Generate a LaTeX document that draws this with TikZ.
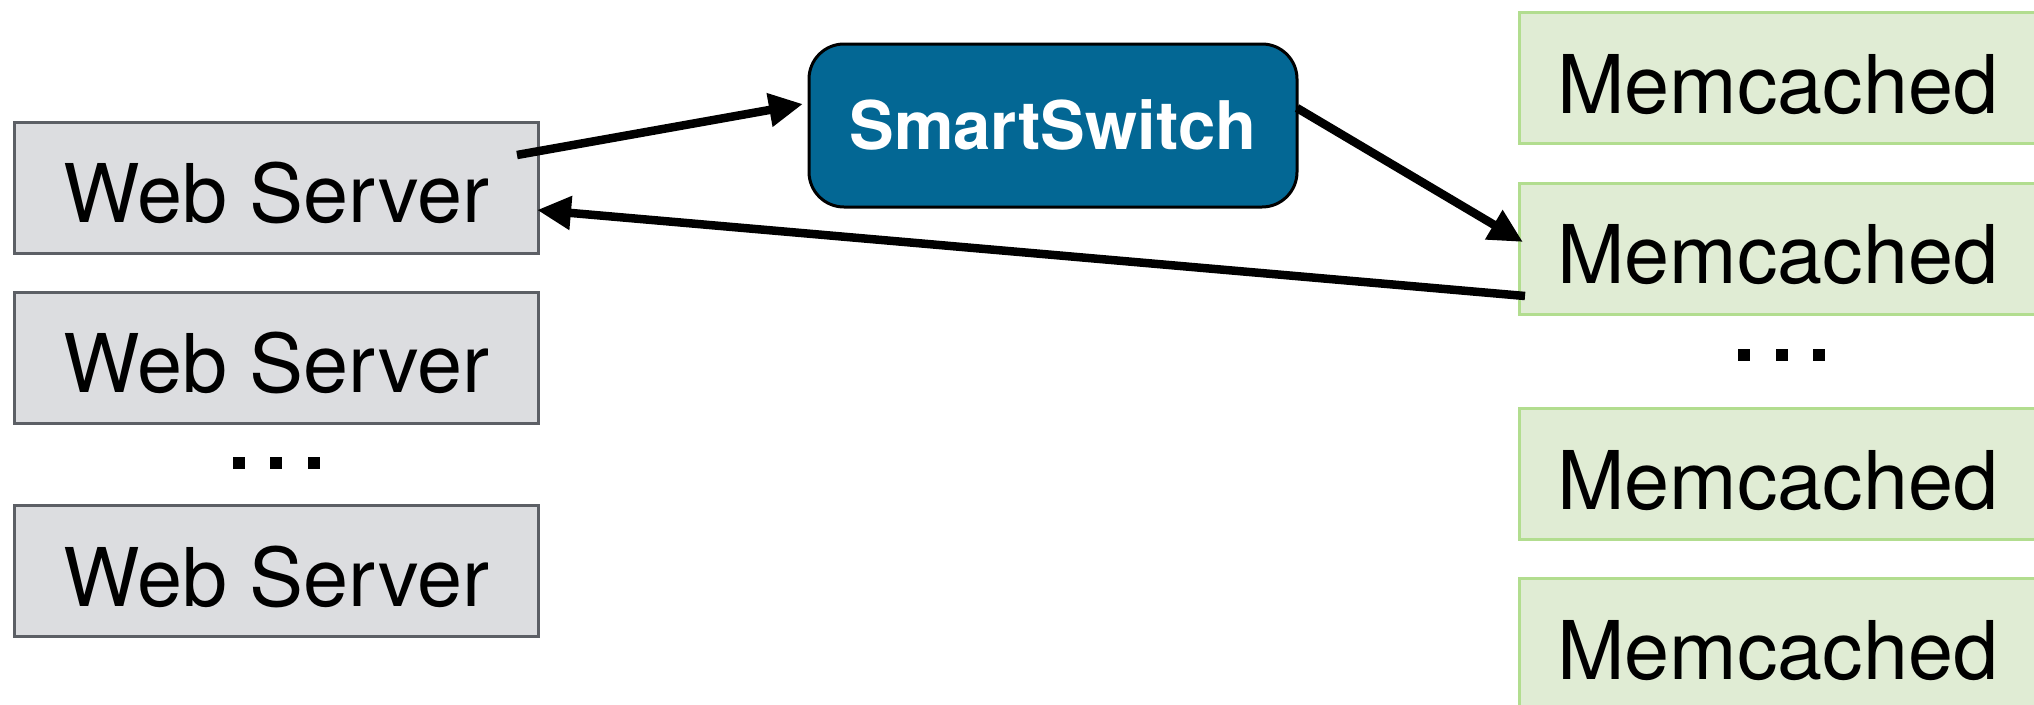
\documentclass[tikz,border=0pt]{standalone}
\usepackage{fontspec}
\setmainfont{TeX Gyre Heros}
\usetikzlibrary{arrows.meta}

\definecolor{wsfill}{RGB}{220,221,224}
\definecolor{wsline}{RGB}{92,95,101}
\definecolor{mcfill}{RGB}{224,236,212}
\definecolor{mcline}{RGB}{178,221,143}
\definecolor{swfill}{RGB}{3,103,148}

\begin{document}
\begin{tikzpicture}[x=1pt,y=-1pt,
  labelfont/.style={font=\fontsize{81}{90}\selectfont, text height=70pt, text depth=0pt},
  wsbox/.style={labelfont, draw=wsline, fill=wsfill, line width=3pt, outer sep=0pt,
    minimum width=524pt, minimum height=131pt, inner sep=0pt},
  mcbox/.style={labelfont, draw=mcline, fill=mcfill, line width=3pt, outer sep=0pt,
    anchor=west, minimum height=131pt, inner ysep=0pt, inner xsep=38pt,
    text width=480pt, align=flush left},
  swbox/.style={draw=black, fill=swfill, line width=3pt, outer sep=0pt,
    rounded corners=35pt, minimum width=488pt, minimum height=163pt, inner sep=0pt,
    text=white, font=\fontsize{67}{70}\selectfont\bfseries,
    text height=48pt, text depth=0pt},
  dotmark/.style={fill=black, minimum size=12pt, inner sep=0pt, outer sep=0pt},
  conn/.style={line width=8.5pt, -{Triangle[length=34pt,width=32pt]}}]

\useasboundingbox (0,0) rectangle (2034,704);

% web servers
\node[wsbox] (ws1) at (276,187.5) {Web Server};
\node[wsbox] (ws2) at (276,357.5) {Web Server};
\node[wsbox] (ws3) at (276,571) {Web Server};
\node[dotmark] (wd1) at (238.5,463) {};
\node[dotmark] (wd2) at (276,463) {};
\node[dotmark] (wd3) at (313.5,463) {};

% memcached servers (boxes run past the right edge)
\node[mcbox] (m1) at (1519,78) {Memcached};
\node[mcbox] (m2) at (1519,248.5) {Memcached};
\node[mcbox] (m3) at (1519,474) {Memcached};
\node[mcbox] (m4) at (1519,644) {Memcached};
\node[dotmark] (md1) at (1744,355) {};
\node[dotmark] (md2) at (1781.5,355) {};
\node[dotmark] (md3) at (1819,355) {};

% switch
\node[swbox] (sw) at (1053,125.5) {SmartSwitch};

% request and reply paths
\draw[conn] ([xshift=-21pt,yshift=32.5pt]ws1.east) -- ([xshift=-6pt,yshift=21.5pt]sw.west);
\draw[conn] ([yshift=17.5pt]sw.east) -- ([xshift=4pt,yshift=6.5pt]m2.west);
\draw[conn] ([xshift=6pt,yshift=-47.5pt]m2.west) -- ([xshift=-1pt,yshift=-22.5pt]ws1.east);
\end{tikzpicture}
\end{document}
